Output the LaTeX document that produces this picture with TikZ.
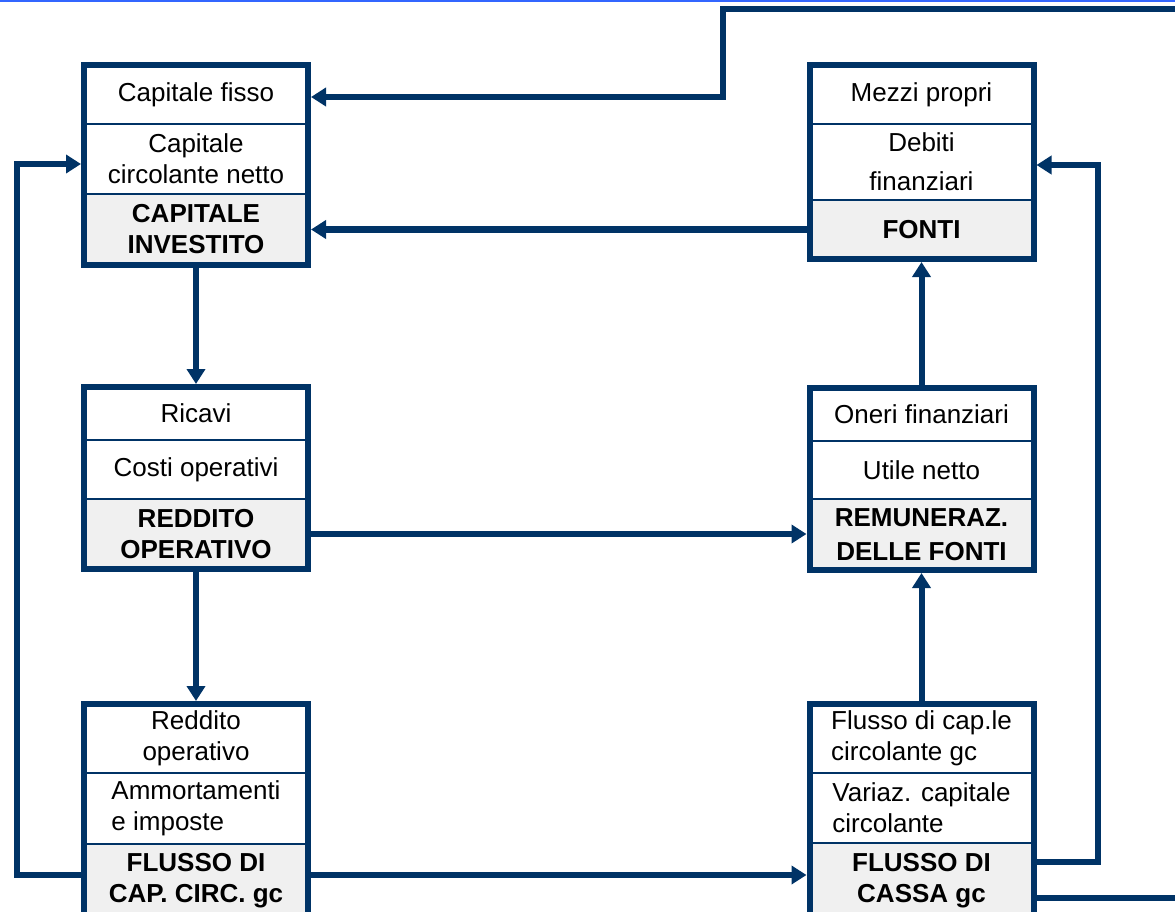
\documentclass[tikz,border=0pt]{standalone}
\usepackage{fontspec}
\setmainfont{Liberation Sans}
\usepackage{tikz}
\usetikzlibrary{arrows.meta,positioning,fit}
\definecolor{navy}{RGB}{0,51,102}
\definecolor{slideblue}{RGB}{51,102,255}
\newcommand{\boxfont}{\fontsize{26}{31}\selectfont}
\tikzset{
        cell/.style = {draw=navy, line width=1.8pt, rectangle,
            minimum width=224pt, inner sep=0pt, outer sep=0pt,
            align=center, font=\boxfont},
        total/.style = {cell, fill=gray!12, font=\boxfont\bfseries},
        frame/.style = {draw=navy, line width=6pt, inner sep=0pt},
        flow/.style = {draw=navy, line width=6pt,
            -{Triangle[length=15pt,width=18pt]}},
        link/.style = {draw=navy, line width=6pt},
    }

\begin{document}
\begin{tikzpicture}[x=1pt,y=-1pt]
    \useasboundingbox (0,0) rectangle (1175,912);
    \draw[slideblue, line width=2pt] (0,1) -- (1175,1);

    % capitale investito
    \node[cell, anchor=north, minimum height=59pt] at (196,65) (ci1) {Capitale fisso};
    \node[cell, below=0pt of ci1, minimum height=70pt] (ci2) {Capitale\\circolante netto};
    \node[total, below=0pt of ci2, minimum height=71pt] (ci3) {CAPITALE\\INVESTITO};
    \node[frame, fit=(ci1)(ci3)] (ci) {};

    % fonti
    \node[cell, anchor=north, minimum height=59pt] at (921.5,65) (fo1) {Mezzi propri};
    \node[cell, below=0pt of fo1, minimum height=76pt] (fo2) {Debiti\\[8pt]finanziari};
    \node[total, below=0pt of fo2, minimum height=59pt] (fo3) {FONTI};
    \node[frame, fit=(fo1)(fo3)] (fo) {};

    % reddito operativo
    \node[cell, anchor=north, minimum height=53pt] at (196,387) (ro1) {Ricavi};
    \node[cell, below=0pt of ro1, minimum height=59pt] (ro2) {Costi operativi};
    \node[total, below=0pt of ro2, minimum height=70pt] (ro3) {REDDITO\\OPERATIVO};
    \node[frame, fit=(ro1)(ro3)] (ro) {};

    % remunerazione delle fonti
    \node[cell, anchor=north, minimum height=53pt] at (921.5,388) (re1) {Oneri finanziari};
    \node[cell, below=0pt of re1, minimum height=58pt] (re2) {Utile netto};
    \node[total, below=0pt of re2, minimum height=71pt] (re3) {REMUNERAZ.\\[3pt]DELLE FONTI};
    \node[frame, fit=(re1)(re3)] (re) {};

    % flusso di capitale circolante
    \node[cell, anchor=north, minimum height=69pt] at (196,704) (fc1) {Reddito\\operativo};
    \node[cell, below=0pt of fc1, minimum height=71pt, align=left] (fc2) {Ammortamenti\\e imposte};
    \node[total, below=0pt of fc2, minimum height=74pt] (fc3) {FLUSSO DI\\CAP. CIRC. gc};
    \node[frame, fit=(fc1)(fc3)] (fc) {};

    % flusso di cassa
    \node[cell, anchor=north, minimum height=69pt, align=left] at (921.5,704) (fk1) {Flusso di cap.le\\circolante gc};
    \node[cell, below=0pt of fk1, minimum height=70pt, align=left] (fk2) {Variaz. capitale\\circolante};
    \node[total, below=0pt of fk2, minimum height=75pt] (fk3) {FLUSSO DI\\CASSA gc};
    \node[frame, fit=(fk1)(fk3)] (fk) {};

    % bends
    \coordinate (tpR) at (1185,9);
    \coordinate (tpL) at (723,9);
    \coordinate (tpD) at (723,97);
    \coordinate (lpB) at (17,875);
    \coordinate (lpT) at (17,164);
    \coordinate (rpB) at (1098,862);
    \coordinate (rpT) at (1098,165);
    \coordinate (exR) at (1185,898);

    \draw[flow] (tpR) -- (tpL) -- (tpD) -- (tpD -| ci.east);
    \draw[flow] (fo3.west) -- (fo3.west -| ci.east);
    \draw[flow] (ci.south) -- (ro.north);
    \draw[flow] (ro.south) -- (fc.north);
    \draw[flow] (ro3.east) -- (ro3.east -| re.west);
    \draw[flow] (re.north) -- (fo.south);
    \draw[flow] (fk.north) -- (re.south);
    \draw[flow] (lpB -| fc.west) -- (lpB) -- (lpT) -- (lpT -| ci.west);
    \draw[flow] (lpB -| fc.east) -- (lpB -| fk.west);
    \draw[flow] (rpB -| fk.east) -- (rpB) -- (rpT) -- (rpT -| fo.east);
    \draw[link] (exR -| fk.east) -- (exR);
\end{tikzpicture}
\end{document}
